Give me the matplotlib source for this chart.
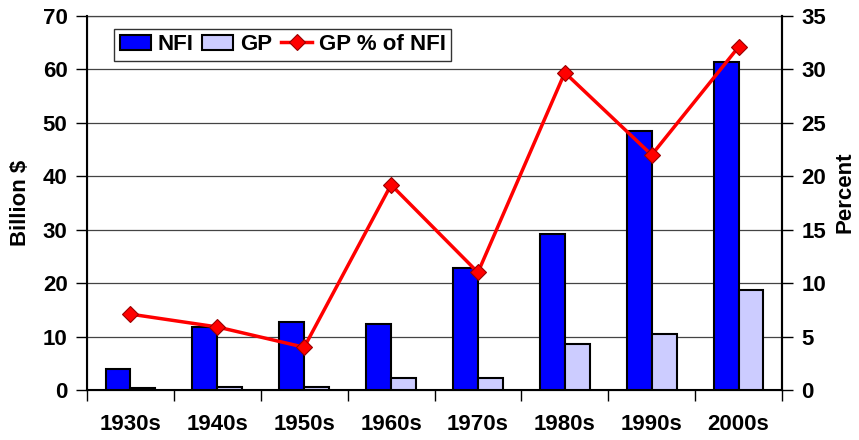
import matplotlib.pyplot as plt
import numpy as np

# decades on the x axis
decades = ['1930s', '1940s', '1950s', '1960s', '1970s', '1980s', '1990s', '2000s']

# billion $ (left axis)
nfi = [3.9, 11.8, 12.8, 12.4, 22.8, 29.2, 48.4, 61.3]
gp = [0.3, 0.6, 0.6, 2.3, 2.2, 8.7, 10.4, 18.8]

# GP as percent of NFI (right axis)
gp_pct = [7.1, 5.9, 4.0, 19.2, 11.0, 29.7, 22.0, 32.1]

plt.rcParams['font.family'] = ['Liberation Sans', 'DejaVu Sans']
plt.rcParams['font.weight'] = 'bold'
fs = 16

fig = plt.figure(figsize=(8.59, 4.40), dpi=100)
ax = fig.add_axes([87 / 859, 1 - 390 / 440, (782 - 87) / 859, (390 - 16) / 440])

x = np.arange(len(decades))
width = 0.286

# bars for NFI and GP
ax.bar(x - width / 2, nfi, width, color='#0000ff', edgecolor='black', linewidth=1.5, label='NFI', zorder=3)
ax.bar(x + width / 2, gp, width, color='#ccccff', edgecolor='black', linewidth=1.5, label='GP', zorder=3)

ax.set_xlim(-0.5, len(decades) - 0.5)
ax.set_ylim(0, 70)
ax.set_yticks(range(0, 71, 10))
ax.set_xticks(x)
ax.set_xticklabels(decades)
# ticks between the categories
ax.set_xticks(np.arange(-0.5, len(decades), 1), minor=True)
ax.tick_params(axis='x', which='major', length=0, labelsize=fs, pad=17)
ax.tick_params(axis='x', which='minor', length=8, width=1, direction='out')
ax.tick_params(axis='y', length=8, width=1, labelsize=fs, pad=6)
ax.yaxis.grid(True, color='#444444', linewidth=0.9)
ax.set_axisbelow(True)
ax.set_ylabel('Billion $', fontsize=fs, fontweight='bold')
ax.yaxis.set_label_coords(-0.08, 0.5)
for s in ['left', 'bottom', 'right']:
    ax.spines[s].set_linewidth(1.5)
ax.spines['top'].set_linewidth(0.9)
ax.spines['top'].set_color('#444444')

# percent line on a second axis
ax2 = ax.twinx()
ax2.plot(x, gp_pct, color='#ff0000', linewidth=2.5, marker='D', markersize=8,
         markerfacecolor='#ff0000', markeredgecolor='#990000', markeredgewidth=0.8,
         label='GP % of NFI', zorder=4)
ax2.set_ylim(0, 35)
ax2.set_yticks(range(0, 36, 5))
ax2.tick_params(axis='y', length=8, width=1, labelsize=fs, pad=6)
ax2.set_ylabel('Percent', fontsize=fs, fontweight='bold')
ax2.yaxis.set_label_coords(1.075, 0.53)
ax2.spines['right'].set_linewidth(1.5)
ax2.spines['top'].set_visible(False)

# combined legend
h1, l1 = ax.get_legend_handles_labels()
h2, l2 = ax2.get_legend_handles_labels()
leg = ax2.legend(h1 + h2, l1 + l2, loc='upper left', bbox_to_anchor=(0.039, 0.966), ncol=3,
                 frameon=True, fancybox=False, shadow=False, fontsize=fs,
                 handlelength=1.4, handletextpad=0.3, columnspacing=0.4,
                 borderpad=0.25, borderaxespad=0)
leg.get_frame().set_edgecolor('black')
leg.get_frame().set_linewidth(1)

fig.savefig('out.png', dpi=100)
